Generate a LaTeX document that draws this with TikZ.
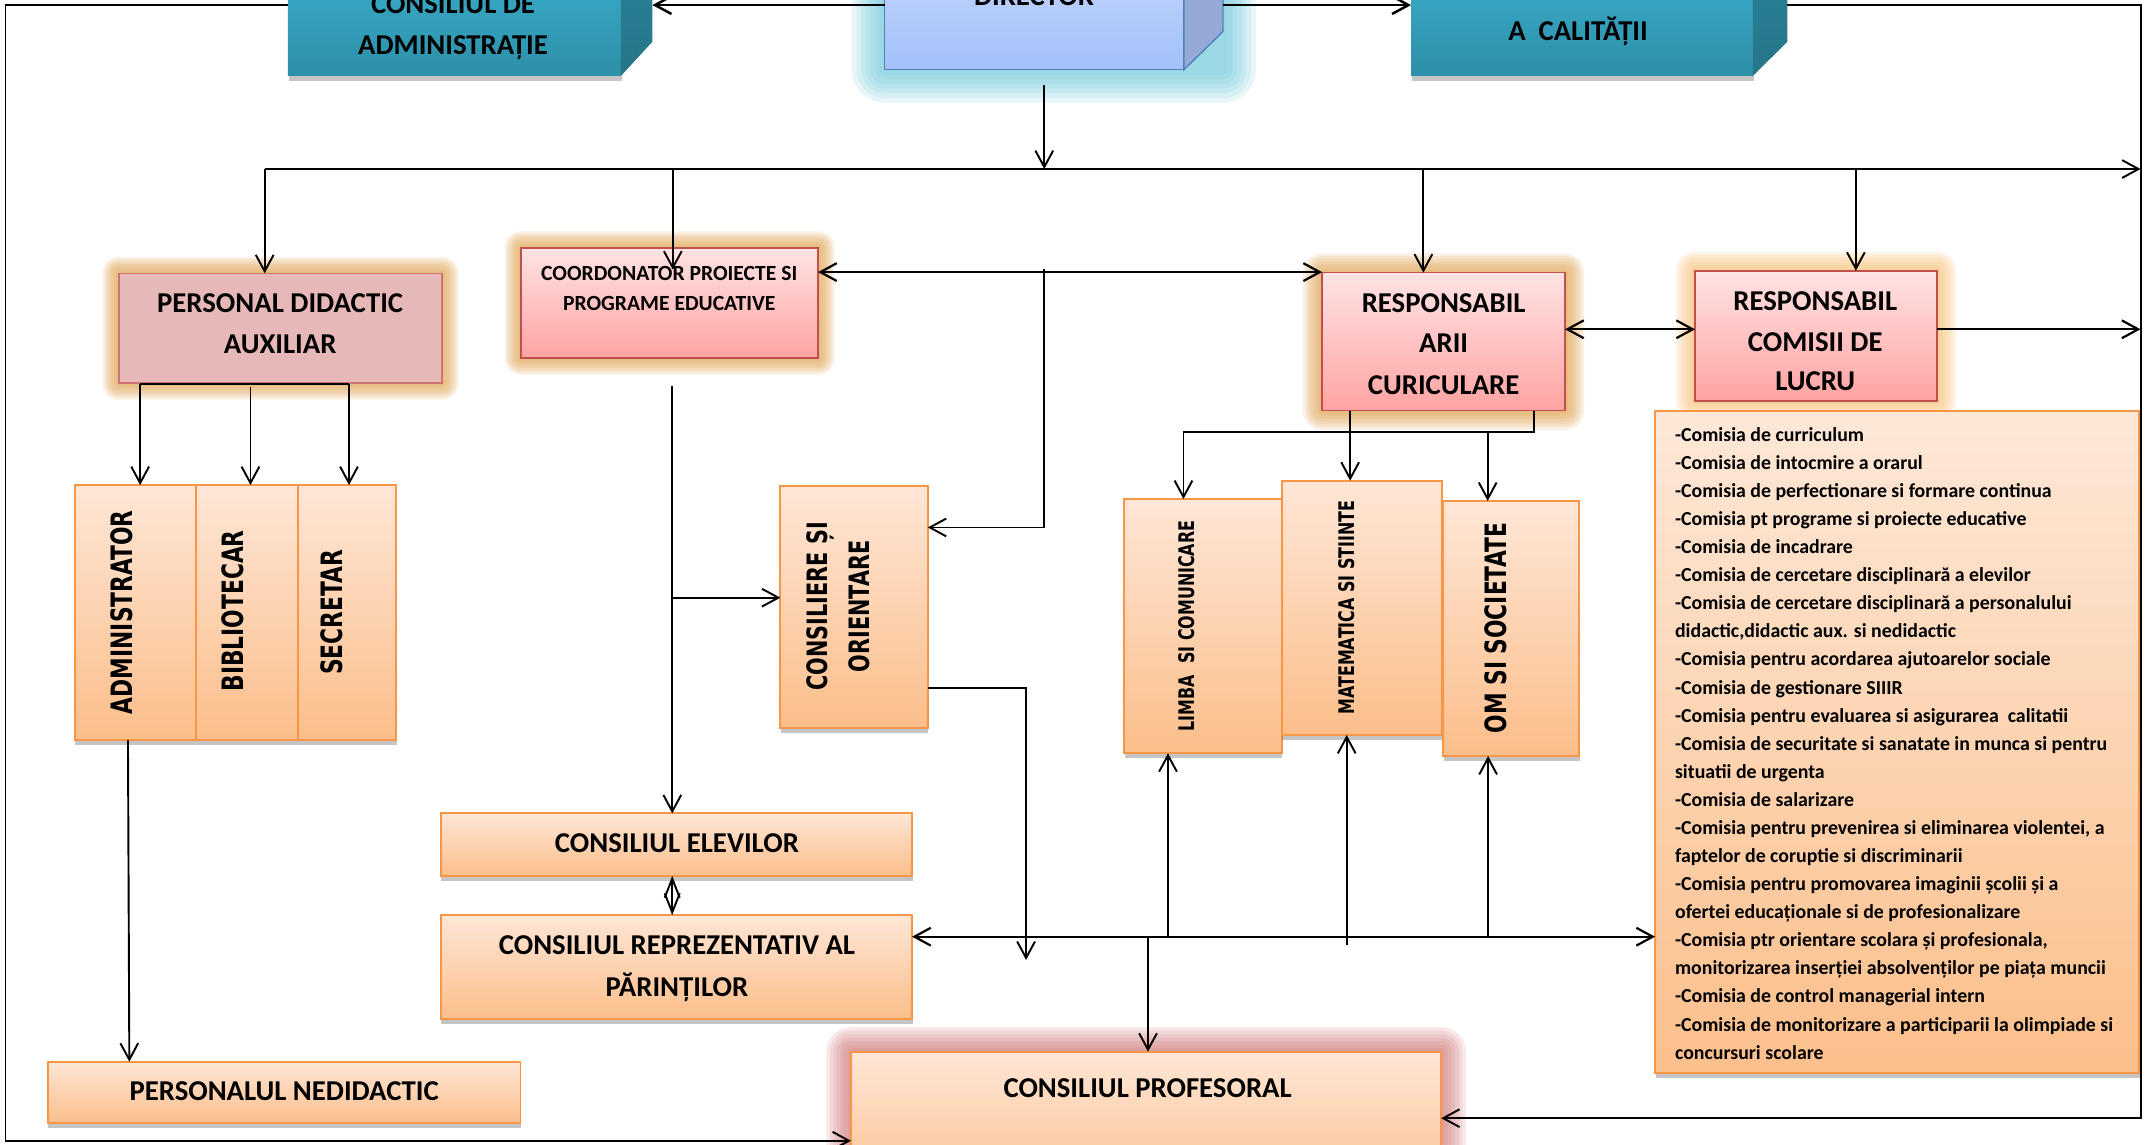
\documentclass[tikz,border=0pt]{standalone}
\usepackage{fontspec}
\setmainfont{Carlito}
\newfontfamily\vertfont{DejaVu Sans}[FakeStretch=0.74]
\usetikzlibrary{arrows.meta,shadows,calc}
\definecolor{ortop}{HTML}{FEE6D6}
\definecolor{orbot}{HTML}{FBBE8A}
\definecolor{orbd}{HTML}{F79646}
\definecolor{pktop}{HTML}{FFE3E3}
\definecolor{pkbot}{HTML}{FFA3A3}
\definecolor{pkbd}{HTML}{C0504D}
\definecolor{pdafill}{HTML}{E6B9B8}
\definecolor{teala}{HTML}{3BB5D3}
\definecolor{tealb}{HTML}{2E8FA8}
\definecolor{tealsa}{HTML}{2C88A0}
\definecolor{tealsb}{HTML}{267589}
\definecolor{dtop}{HTML}{CADAFC}
\definecolor{dbot}{HTML}{A2C0F9}
\definecolor{dbd}{HTML}{4F81BD}
\definecolor{dside}{HTML}{94A9D4}
\definecolor{glowtan}{HTML}{E2A452}
\definecolor{glowpeach}{HTML}{F9C279}
\definecolor{glowcyan}{HTML}{74CBDD}
\definecolor{glowred}{HTML}{D27C7B}
\definecolor{listtop}{HTML}{FDE8D8}
\definecolor{listbot}{HTML}{FBBF8B}
\pgfdeclarelayer{bg}
\pgfsetlayers{bg,main}
\newcommand\mkbox[6]{%
\pgfmathsetmacro\bxcx{(#3+#5)/2}\pgfmathsetmacro\bxcy{(#4+#6)/2}%
\pgfmathsetmacro\bxw{#5-#3}\pgfmathsetmacro\bxh{#6-#4}%
\node[#1, minimum width=\bxw pt, minimum height=\bxh pt] (#2) at (\bxcx,\bxcy) {};}
\newcommand\glowr[6]{%
\begin{pgfonlayer}{bg}
\foreach \k in {1,...,7}{%
\pgfmathsetmacro\gg{#6*\k/7}%
\fill[#5,opacity=0.16,rounded corners=\gg pt] ({#1-\gg},{#2-\gg}) rectangle ({#3+\gg},{#4+\gg});}
\end{pgfonlayer}}
\tikzset{
 bs/.style={inner sep=0pt, outer sep=0pt},
 shd/.style={drop shadow={shadow xshift=0.5pt, shadow yshift=-3.5pt, opacity=0.32, fill=black!70}},
 obox/.style={bs, shd, draw=orbd, line width=1.4pt, top color=ortop, bottom color=orbot},
 lbox/.style={bs, shd, draw=orbd, line width=1.6pt, top color=listtop, bottom color=listbot},
 pbox/.style={bs, draw=pkbd, line width=1.2pt, top color=pktop, bottom color=pkbot},
 pdabox/.style={bs, draw=pkbd!80, line width=1.2pt, fill=pdafill},
 tbox/.style={bs, shd, top color=teala, bottom color=tealb},
 dbox/.style={bs, draw=dbd, line width=1pt, top color=dtop, bottom color=dbot},
 cpbox/.style={bs, draw=orbd, line width=1.4pt, top color=ortop, bottom color=orbot},
 tA/.style={bs, font=\bfseries\fontsize{21}{25}\selectfont, text height=13.5pt, text depth=0pt},
 tC/.style={bs, font=\bfseries\fontsize{15.8}{18}\selectfont, text height=10.2pt, text depth=0pt},
 tV/.style={bs, rotate=90, font=\vertfont\bfseries\fontsize{21.5}{25}\selectfont, text height=15.7pt, text depth=0pt},
 tVm/.style={bs, rotate=90, font=\vertfont\bfseries\fontsize{20.5}{25}\selectfont, text height=15pt, text depth=0pt},
 tVs/.style={bs, rotate=90, font=\vertfont\bfseries\fontsize{15.7}{19}\selectfont, text height=11.4pt, text depth=0pt},
 tL/.style={bs, font=\bfseries\fontsize{14.5}{17}\selectfont},
 ln/.style={draw=black, line width=1.4pt},
 arr/.style={ln, -{Straight Barb[length=12pt,width=13pt]}},
 darr/.style={ln, {Straight Barb[length=12pt,width=13pt]}-{Straight Barb[length=12pt,width=13pt]}},
 dia/.style={ln, {Straight Barb[length=14pt,width=11pt]}-{Straight Barb[length=14pt,width=11pt]}},
}
\begin{document}
\begin{tikzpicture}[x=1pt,y=-1pt]
\useasboundingbox (0,0) rectangle (1568,836);
\begin{pgfonlayer}{bg}
\fill[white] (0,0) rectangle (1568,836);
\end{pgfonlayer}
\clip (0,0) rectangle (1568,836);

% ---- glows
\glowr{646.4}{-45}{893.6}{51}{glowcyan}{24}
\glowr{86.8}{199.7}{323}{280}{glowtan}{12}
\glowr{380.8}{181}{597.7}{261.8}{glowtan}{12}
\glowr{966}{199.2}{1143.5}{300}{glowtan}{14}
\glowr{1238.5}{197.8}{1415.4}{292.8}{glowpeach}{14}
\glowr{621.8}{768.4}{1053}{880}{glowred}{18}

% ---- top 3D boxes
\mkbox{tbox}{ca}{210.4}{-45}{453.7}{55.5}
\shade[top color=tealsa, bottom color=tealsb] (ca.south east) -- ++(23,-25) -- ++(0,-100) -- (ca.north east) -- cycle;
\mkbox{dbox}{dir}{646.4}{-45}{865}{51}
\filldraw[fill=dside, draw=dbd, line width=1pt] (dir.south east) -- ++(28.6,-28) -- ++(0,-100) -- (dir.north east) -- cycle;
\mkbox{tbox}{cal}{1031}{-45}{1280.7}{55.5}
\shade[top color=tealsa, bottom color=tealsb] (cal.south east) -- ++(25.3,-25) -- ++(0,-100) -- (cal.north east) -- cycle;
\node[tA] (caT1) at (331,3) {CONSILIUL DE};
\node[tA] (caT2) at (331,33) {ADMINISTRAȚIE};
\node[tA] (dirT) at (755.5,-3) {DIRECTOR};
\node[tA] (calT) at (1153,23) {A\hspace{0.45em}CALITĂȚII};

% ---- pink boxes
\mkbox{pdabox}{pda}{86.8}{199.7}{323}{280}
\node[tA] (pdaT1) at (204.7,221.6) {PERSONAL DIDACTIC};
\node[tA] (pdaT2) at (204.7,251.4) {AUXILIAR};
\mkbox{pbox}{coord}{380.8}{181}{597.7}{261.8}
\node[tC] (coT1) at (489,199.7) {COORDONATOR PROIECTE SI};
\node[tC] (coT2) at (489,222) {PROGRAME EDUCATIVE};
\mkbox{pbox}{ra}{966}{199.2}{1143.5}{300}
\node[tA] (raT1) at (1054.8,221.6) {RESPONSABIL};
\node[tA] (raT2) at (1054.8,250.9) {ARII};
\node[tA] (raT3) at (1054.8,281.3) {CURICULARE};
\mkbox{pbox}{rc}{1238.5}{197.8}{1415.4}{292.8}
\node[tA] (rcT1) at (1326.3,220.4) {RESPONSABIL};
\node[tA] (rcT2) at (1326.3,250.1) {COMISII DE};
\node[tA] (rcT3) at (1326.3,278.9) {LUCRU};

% ---- orange boxes
\mkbox{obox}{adm}{54.5}{354.4}{143.5}{540.7}
\mkbox{obox}{bib}{143.5}{354.4}{217.7}{540.7}
\mkbox{obox}{sec}{217.7}{354.4}{289.4}{540.7}
\node[tV] (admT) at (89,447.3) {ADMINISTRATOR};
\node[tV] (bibT) at (169.9,446.3) {BIBLIOTECAR};
\node[tV] (secT) at (242.5,447.4) {SECRETAR};
\mkbox{obox}{cons}{570.2}{355}{677.9}{532}
\node[tVm] (consT1) at (597,443) {CONSILIERE ȘI};
\node[tVm] (consT2) at (628,443) {ORIENTARE};
\mkbox{obox}{ce}{321.9}{594.3}{666.4}{640}
\node[tA] (ceT) at (494.6,616.2) {CONSILIUL ELEVILOR};
\mkbox{obox}{crp}{321.9}{668.6}{666.4}{744.8}
\node[tA] (crpT1) at (494.6,690.5) {CONSILIUL REPREZENTATIV AL};
\node[tA] (crpT2) at (494.6,721) {PĂRINȚILOR};
\mkbox{obox}{pn}{34.9}{775.7}{380.3}{820.8}
\node[tA] (pnT) at (207.6,797) {PERSONALUL NEDIDACTIC};
\mkbox{obox}{limba}{821.3}{364.6}{936.4}{550.4}
\mkbox{obox}{mate}{936.4}{351.2}{1053.4}{537}
\mkbox{obox}{om}{1054.4}{366}{1153.8}{552.4}
\node[tVs] (limT) at (867,457.3) {LIMBA\ \ SI COMUNICARE};
\node[tVs] (matT) at (984,443.9) {MATEMATICA SI STIINTE};
\node[tV] (omT) at (1092.8,459) {OM SI SOCIETATE};
\mkbox{lbox}{lst}{1209.3}{300.3}{1563}{783.8}
\foreach \linetext [count=\i] in {
{-Comisia de curriculum},
{-Comisia de intocmire a orarul},
{-Comisia de perfectionare si formare continua},
{-Comisia pt programe si proiecte educative},
{-Comisia de incadrare},
{-Comisia de cercetare disciplinară a elevilor},
{-Comisia de cercetare disciplinară a personalului},
{didactic,didactic aux. si nedidactic},
{-Comisia pentru acordarea ajutoarelor sociale},
{-Comisia de gestionare SIIIR},
{-Comisia pentru evaluarea si asigurarea\ \ calitatii},
{-Comisia de securitate si sanatate in munca si pentru},
{situatii de urgenta},
{-Comisia de salarizare},
{-Comisia pentru prevenirea si eliminarea violentei, a},
{faptelor de coruptie si discriminarii},
{-Comisia pentru promovarea imaginii școlii și a},
{ofertei educaționale si de profesionalizare},
{-Comisia ptr orientare scolara și profesionala,},
{monitorizarea inserției absolvenților pe piața muncii},
{-Comisia de control managerial intern},
{-Comisia de monitorizare a participarii la olimpiade si},
{concursuri scolare}}
{\node[tL, anchor=base west] (l\i) at (1223.9,{322.4+(\i-1)*20.52}) {\linetext};}
\mkbox{cpbox}{cp}{621.8}{768.4}{1053}{880}
\node[tA] (cpT) at (838.5,795) {CONSILIUL PROFESORAL};

% ---- connectors
\coordinate (fTL) at (4,3.7); \coordinate (fBL) at (4,833.5);
\draw[arr] (ca.west |- fTL) -- (fTL) -- (fBL) -- (cp.west |- fBL);
\coordinate (fTR) at (1564,3.7); \coordinate (fBR) at (1564,817);
\coordinate (calS) at (1306,30.5);
\draw[arr] (calS |- fTR) -- (fTR) -- (fBR) -- (cp.east |- fBR);
\coordinate (caS) at (476.7,30.5); \coordinate (dirS) at (893.6,23);
\draw[arr, line width=1.8pt] (dir.west |- fTL) -- (caS |- fTL);
\draw[arr, line width=1.8pt] (dirS |- fTL) -- (cal.west |- fTL);
\coordinate (dOut) at (763,62); \coordinate (busD) at (763,123.5);
\draw[arr] (dOut) -- (busD);
\coordinate (busL) at (193.4,123.5); \coordinate (busR) at (1564,123.5);
\coordinate (busK) at (1350,123.5);
\draw[arr] (busL) -- (busR);
\draw[ln, line width=2pt] (busK) -- ([xshift=-4pt]busR);
\draw[arr] (busL) -- (busL |- pda.north);
\coordinate (bC) at (491.6,123.5); \coordinate (cIn) at (491.6,197);
\draw[arr] (bC) -- (cIn);
\coordinate (bRA) at (1040,123.5); \draw[arr] (bRA) -- (bRA |- ra.north);
\coordinate (bRC) at (1356,123.5); \draw[arr] (bRC) -- (bRC |- rc.north);
\coordinate (yCR) at (0,198.8);
\draw[darr, line width=1.6pt] (coord.east |- yCR) -- (ra.west |- yCR);
\coordinate (vT) at (763,196.5); \coordinate (vB) at (763,385.4);
\draw[arr] (vT) -- (vB) -- (cons.east |- vB);
\coordinate (cOut) at (491.2,282);
\draw[arr] (cOut) -- (cOut |- ce.north);
\coordinate (cBr) at (491.2,436.7);
\draw[arr] (cBr) -- (cons.west |- cBr);
\coordinate (ycs) at (0,502.7); \coordinate (csC) at (749.7,502.7); \coordinate (csEnd) at (749.7,701.4);
\draw[arr] (cons.east |- ycs) -- (csC) -- (csEnd);
\coordinate (pL) at (102.4,280.6); \coordinate (pR) at (255,280.6); \coordinate (pM) at (183,283);
\draw[ln] (pL) -- (pR);
\draw[arr] (pL) -- (pL |- adm.north);
\draw[arr] (pM) -- (pM |- bib.north);
\draw[arr] (pR) -- (pR |- sec.north);
\draw[arr] ([xshift=-5.5pt]adm.south) -- ([xshift=-113.1pt]pn.north);
\draw[dia] ([xshift=-3pt]ce.south) -- ([xshift=-3pt]crp.north);
\coordinate (yH) at (0,684.4);
\draw[darr, line width=1.6pt] (crp.east |- yH) -- (lst.west |- yH);
\coordinate (hCP) at (838.8,684.4); \draw[arr] (hCP) -- (hCP |- cp.north);
\coordinate (hL) at (853.4,684.4); \draw[arr] (hL) -- (hL |- limba.south);
\coordinate (hM) at (984,690.5); \draw[arr] (hM) -- (hM |- mate.south);
\coordinate (hO) at (1087.3,684.4); \draw[arr] (hO) -- (hO |- om.south);
\coordinate (rA) at (1120.6,315.4); \coordinate (rL) at (864.7,315.4);
\draw[arr] (rA |- ra.south) -- (rA) -- (rL) -- (rL |- limba.north);
\coordinate (rM) at (986.5,300); \draw[arr] (rM) -- (rM |- mate.north);
\coordinate (rO) at (1087,315.4); \draw[arr] (rO) -- (rO |- om.north);
\coordinate (yRR) at (0,240.6);
\draw[darr, line width=1.6pt] (ra.east |- yRR) -- (rc.west |- yRR);
\coordinate (rcEnd) at (1564,240.6);
\draw[arr, line width=1.6pt] (rc.east |- yRR) -- (rcEnd);
\end{tikzpicture}
\end{document}
